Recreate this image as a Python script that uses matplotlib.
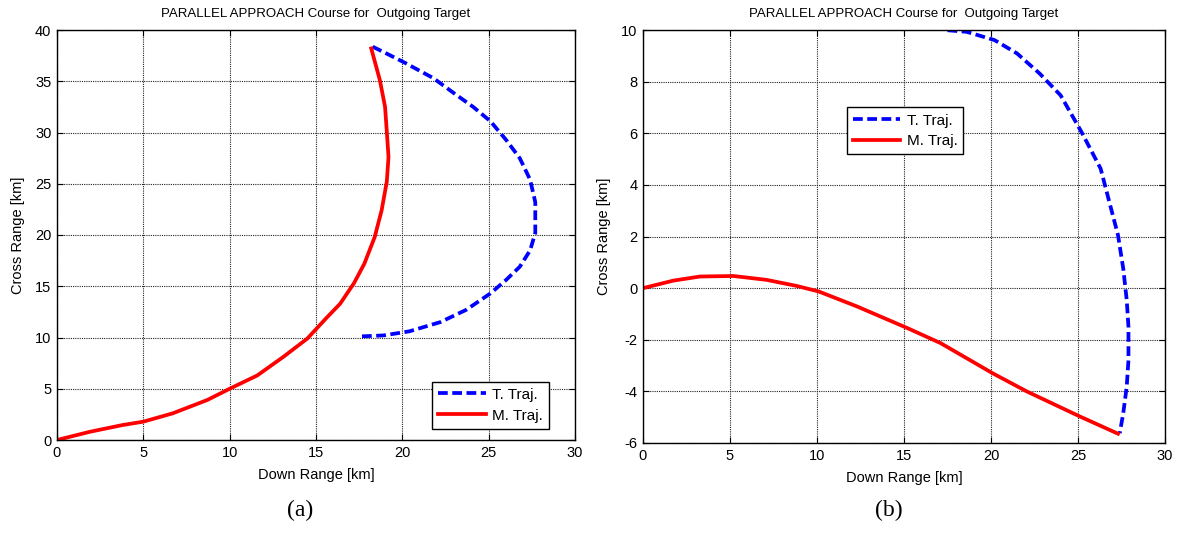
import matplotlib
matplotlib.use('Agg')
import matplotlib.pyplot as plt
import numpy as np

plt.rcParams['font.family'] = ['Liberation Sans', 'DejaVu Sans']
plt.rcParams['axes.unicode_minus'] = False

# (a) 目标轨迹 / 导弹轨迹
ta_x = [18.28, 19.09, 20.15, 21.8, 23.1, 24.1, 25.1, 26.0, 26.8, 27.4, 27.7, 27.7, 27.4, 26.8, 26.0, 25.1, 23.7, 22.2, 20.4, 18.9, 17.45]
ta_y = [38.37, 37.7, 36.8, 35.3, 33.7, 32.5, 31.1, 29.3, 27.5, 25.4, 23.2, 20.2, 18.5, 16.9, 15.6, 14.3, 12.7, 11.5, 10.6, 10.2, 10.1]
ma_x = [0.0, 1.9, 3.8, 5.0, 6.7, 8.7, 10.0, 11.6, 13.1, 14.5, 15.6, 16.4, 17.2, 17.8, 18.4, 18.8, 19.1, 19.2, 19.1, 19.0, 18.7, 18.2]
ma_y = [0.0, 0.8, 1.46, 1.79, 2.6, 3.9, 5.0, 6.3, 8.1, 9.9, 11.9, 13.3, 15.3, 17.2, 19.8, 22.4, 25.2, 27.6, 30.1, 32.5, 35.1, 38.2]

# (b)
tb_x = [17.5, 18.6, 20.2, 21.5, 22.8, 24.0, 25.2, 26.3, 26.8, 27.3, 27.6, 27.8, 27.9, 27.9, 27.8, 27.6, 27.4]
tb_y = [9.99, 9.93, 9.61, 9.09, 8.31, 7.47, 6.05, 4.63, 3.34, 2.05, 0.76, -0.46, -1.5, -2.79, -3.82, -4.85, -5.62]
mb_x = [0.0, 1.74, 3.28, 5.2, 7.1, 8.8, 10.1, 12.3, 15.2, 17.1, 20.1, 22.05, 25.1, 27.3]
mb_y = [0.0, 0.29, 0.45, 0.47, 0.32, 0.09, -0.13, -0.71, -1.55, -2.13, -3.30, -4.0, -4.97, -5.64]

title = 'PARALLEL APPROACH Course for  Outgoing Target'

fig = plt.figure(figsize=(11.88, 5.35), dpi=100)
ax1 = fig.add_axes([57/1188, 1-440/535, 518/1188, 410/535])
ax2 = fig.add_axes([643/1188, 1-443/535, 522/1188, 413/535])

dash = (0, (2.6, 1.2))
for ax, tx, ty, mx, my in [(ax1, ta_x, ta_y, ma_x, ma_y), (ax2, tb_x, tb_y, mb_x, mb_y)]:
    ax.plot(tx, ty, color='#0000ff', lw=2.7, linestyle=dash, dash_joinstyle='round', label='T. Traj.')
    ax.plot(mx, my, color='#ff0000', lw=2.7, solid_joinstyle='round', label='M. Traj.')
    ax.set_xlim(0, 30)
    ax.set_xticks(np.arange(0, 31, 5))
    ax.grid(True, color='#222222', linestyle=(0, (1, 1)), linewidth=0.8)
    ax.tick_params(direction='in', labelsize=10.5, length=4, top=True, right=True, pad=4)
    ax.set_xlabel('Down Range [km]', fontsize=10.5, labelpad=6)
    ax.set_ylabel('Cross Range [km]', fontsize=10.5, labelpad=7)
    ax.set_title(title, fontsize=9.5, pad=9)
    for s in ax.spines.values():
        s.set_linewidth(1.0)

ax1.set_ylim(0, 40)
ax1.set_yticks(np.arange(0, 41, 5))
ax2.set_ylim(-6, 10)
ax2.set_yticks(np.arange(-6, 11, 2))

leg1 = ax1.legend(loc='lower right', bbox_to_anchor=(0.955, 0.02), fontsize=11, fancybox=False,
                  edgecolor='black', framealpha=1, handlelength=3.1, borderpad=0.4,
                  labelspacing=0.45, handletextpad=0.4, borderaxespad=0.2)
leg2 = ax2.legend(loc='upper left', bbox_to_anchor=(0.385, 0.82), fontsize=11, fancybox=False,
                  edgecolor='black', framealpha=1, handlelength=3.1, borderpad=0.4,
                  labelspacing=0.45, handletextpad=0.4, borderaxespad=0.2)
for leg in (leg1, leg2):
    leg.get_frame().set_linewidth(1.0)

fig.text(300/1188, 1-510/535, '(a)', family='Liberation Serif', fontsize=17, ha='center', va='center')
fig.text(889/1188, 1-510/535, '(b)', family='Liberation Serif', fontsize=17, ha='center', va='center')

fig.savefig('out.png', dpi=100)
